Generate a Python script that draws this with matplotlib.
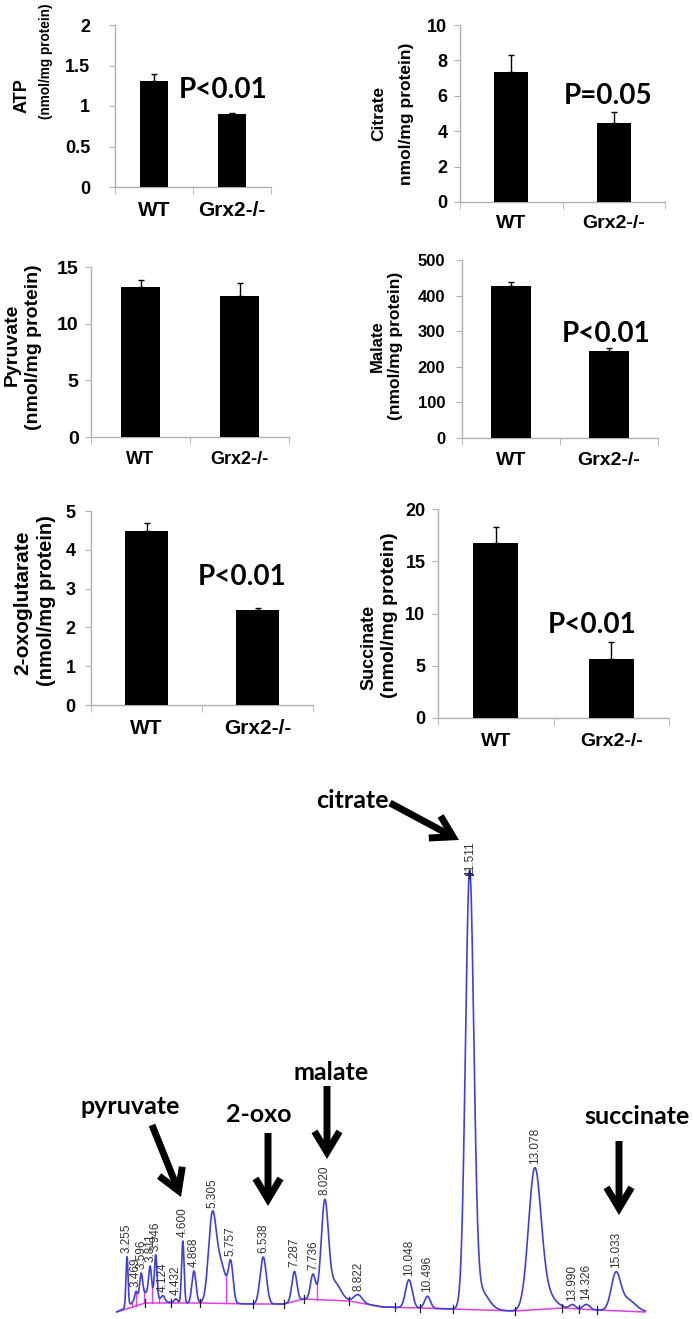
import numpy as np
import matplotlib
matplotlib.use("Agg")
import matplotlib.pyplot as plt
from matplotlib.ticker import FixedLocator, FuncFormatter

plt.rcParams['font.family'] = ['Liberation Sans', 'DejaVu Sans']

W, H, DPI = 693, 1319, 100
fig = plt.figure(figsize=(W / DPI, H / DPI), dpi=DPI)

# ---------------- data ----------------
groups = ["WT", "Grx2-/-"]

atp_mean = [1.31, 0.90]
atp_err = [0.08, 0.01]
citrate_mean = [7.32, 4.49]
citrate_err = [0.98, 0.57]
pyruvate_mean = [13.2, 12.42]
pyruvate_err = [0.65, 1.18]
malate_mean = [427, 243]
malate_err = [10, 9]
oxo_mean = [4.48, 2.44]
oxo_err = [0.22, 0.06]
succinate_mean = [16.75, 5.65]
succinate_err = [1.53, 1.59]

atp_ticks = [0, 0.5, 1, 1.5, 2]
citrate_ticks = [0, 2, 4, 6, 8, 10]
pyruvate_ticks = [0, 5, 10, 15]
malate_ticks = [0, 100, 200, 300, 400, 500]
oxo_ticks = [0, 1, 2, 3, 4, 5]
succinate_ticks = [0, 5, 10, 15, 20]

p_texts = ["P<0.01", "P=0.05", None, "P<0.01", "P<0.01", "P<0.01"]

# chromatogram: labelled peaks (retention time, height, width)
peak_rt = [3.255, 3.469, 3.596, 3.811, 3.946, 4.124, 4.432, 4.600, 4.868,
           5.305, 5.757, 6.538, 7.287, 7.736, 8.020, 8.822, 10.048, 10.496,
           11.511, 13.078, 13.990, 14.326, 15.033]
peak_height = [50, 8, 22, 28, 42, 5, 4, 62, 32,
               76, 36, 47, 30, 25, 95, 8, 28, 12,
               430, 136, 4, 5, 34]
peak_width = [0.025, 0.03, 0.035, 0.035, 0.03, 0.04, 0.04, 0.03, 0.05,
              0.09, 0.055, 0.075, 0.06, 0.06, 0.085, 0.10, 0.08, 0.07,
              0.10, 0.15, 0.07, 0.08, 0.11]
# unlabelled shoulders / tails
tail_rt = [3.70, 5.50, 8.25, 11.75, 13.35, 15.30]
tail_height = [10, 40, 18, 20, 15, 12]
tail_width = [0.25, 0.14, 0.15, 0.20, 0.20, 0.20]
# integration baseline (time, signal)
base_t = [3.01, 3.69, 5.01, 6.29, 7.04, 7.52, 8.60, 9.42, 11.11, 12.60, 13.74, 14.58, 15.74]
base_v = [-7, 2, 2, 1, 1, 6, 4, -2, -4, -6, -3, -5, -7]
# integration events
tick_t = [3.69, 4.31, 5.01, 6.29, 7.04, 7.52, 8.60, 9.71, 10.32, 11.11, 12.60, 13.74, 14.15, 14.58]
drop_t = [3.37, 3.47, 3.66, 3.86, 4.03, 4.72, 5.64, 7.84]

annot_names = ["pyruvate", "2-oxo", "malate", "citrate", "succinate"]


def box(l, t, r, b):
    return [l / W, 1 - b / H, (r - l) / W, (b - t) / H]


AXC = '#b0b0b0'


def bar_panel(bx, means, errs, ticks, width, tfs, tpad, xfs, xpad):
    ax = fig.add_axes(box(*bx))
    x = np.arange(len(groups))
    ax.bar(x, means, width=width, color='black', zorder=3)
    ax.errorbar(x, means, yerr=[np.zeros(len(errs)), errs], fmt='none',
                ecolor='black', elinewidth=1.0, capsize=2.5, capthick=1.0, zorder=4)
    ax.set_xlim(-0.5, 1.5)
    ax.set_ylim(ticks[0], ticks[-1])
    for s in ['top', 'right']:
        ax.spines[s].set_visible(False)
    for s in ['left', 'bottom']:
        ax.spines[s].set_color(AXC)
        ax.spines[s].set_linewidth(1.0)
    ax.yaxis.set_major_locator(FixedLocator(ticks))
    ax.yaxis.set_major_formatter(FuncFormatter(lambda v, p: '%g' % v))
    ax.tick_params(axis='y', length=4, color=AXC, pad=tpad, labelsize=tfs)
    for lab in ax.get_yticklabels():
        lab.set_fontweight('bold')
    ax.set_xticks(x)
    ax.set_xticklabels(groups, fontsize=xfs, fontweight='bold')
    ax.tick_params(axis='x', length=0, pad=xpad)
    ax.set_xticks([-0.5, 0.5, 1.5], minor=True)
    ax.tick_params(axis='x', which='minor', length=5, color=AXC, direction='out')
    return ax


panels = [
    # box px, means, errs, ticks, barwidth, tick fs, tick pad, x fs, x pad
    ((115, 25, 271, 187), atp_mean, atp_err, atp_ticks, 0.37, 13, 14, 15, 10),
    ((460, 25, 665, 202), citrate_mean, citrate_err, citrate_ticks, 0.33, 13, 5, 14, 9),
    ((91, 267, 289, 437), pyruvate_mean, pyruvate_err, pyruvate_ticks, 0.39, 14, 5, 13, 10),
    ((462, 260, 658, 438), malate_mean, malate_err, malate_ticks, 0.41, 12, 8, 14, 10),
    ((91, 511, 313, 705), oxo_mean, oxo_err, oxo_ticks, 0.39, 13, 7, 15, 10),
    ((438, 509, 669, 718), succinate_mean, succinate_err, succinate_ticks, 0.39, 13, 5, 14, 11),
]
axes = [bar_panel(*p) for p in panels]

# y-axis titles (figure pixel positions)
ylabels = [
    ("ATP", 22, 96, 13), ("(nmol/mg protein)", 46, 61, 9.8),
    ("Citrate", 379, 113, 12.5), ("nmol/mg protein)", 407, 114, 12.5),
    ("Pyruvate", 12, 345, 14), ("(nmol/mg protein)", 34, 347, 14),
    ("Malate", 377, 346, 12), ("(nmol/mg protein)", 395, 346, 12.5),
    ("2-oxoglutarate", 23, 603, 15), ("(nmol/mg protein)", 46, 601, 14.5),
    ("Succinate", 369, 647, 13), ("(nmol/mg protein)", 390, 615, 14),
]
for txt, px, py, fs in ylabels:
    fig.text(px / W, 1 - py / H, txt, rotation=90, ha='center', va='center',
             fontsize=fs, fontweight='bold')

# p-values (baseline positions)
p_pos = [(223, 98), (608, 104), None, (606, 342), (242, 585), (592, 633)]
for txt, pos in zip(p_texts, p_pos):
    if txt is None:
        continue
    fig.text(pos[0] / W, 1 - pos[1] / H, txt, ha='center', va='baseline',
             fontsize=20, fontweight='bold', family=['Lato', 'Liberation Sans'])

# ---------------- chromatogram ----------------
px0, pxscale, rt_ref = 127.0, 41.5, 3.255
tmin = rt_ref + (110 - px0) / pxscale
tmax = rt_ref + (650 - px0) / pxscale
cax = fig.add_axes(box(110, 845, 650, 1319))
cax.set_xlim(tmin, tmax)
cax.set_ylim(-14, 460)
cax.axis('off')

t = np.linspace(base_t[0], base_t[-1], 4000)


def signal(tt):
    tt = np.asarray(tt, dtype=float)
    y = np.interp(tt, base_t, base_v)
    for r, h, w in zip(peak_rt + tail_rt, peak_height + tail_height, peak_width + tail_width):
        y = y + h * np.exp(-0.5 * ((tt - r) / w) ** 2)
    return y


y = signal(t)
BLUE = '#3f3fdc'
MAG = '#e040e0'
cax.plot(base_t, base_v, color=MAG, lw=1.1, zorder=2)
for d in drop_t:
    cax.plot([d, d], [np.interp(d, base_t, base_v), signal(d)], color=MAG, lw=1.0, zorder=2)
cax.plot(t, y, color=BLUE, lw=1.2, zorder=3)
for k in tick_t:
    b = np.interp(k, base_t, base_v)
    cax.plot([k, k], [b - 4, b + 4], color='#222222', lw=0.9, zorder=4)

for r in peak_rt:
    top = signal(r)
    off = 4
    if r > 11 and r < 12:
        off = -6
    cax.text(r, top + off, '%.3f' % r, rotation=90, ha='center', va='bottom',
             fontsize=8.5, color='#333333', zorder=5)
cax.plot([11.511], [signal(11.511) - 5], marker='+', color='#222266', ms=6, mew=1.2, zorder=6)

# annotation texts and arrows (figure pixel positions)
annot_text_pos = [(130, 1107), (259, 1115), (331, 1072), (352, 801), (637, 1117)]
annot_arrows = [((152, 1125), (181, 1197)), ((268, 1133), (268, 1206)),
                ((327, 1086), (327, 1159)), ((390, 803), (459, 840)),
                ((619, 1141), (619, 1215))]
for name, (tx, ty), (tail, tip) in zip(annot_names, annot_text_pos, annot_arrows):
    fig.text(tx / W, 1 - ty / H, name, ha='center', va='center', fontsize=18,
             fontweight='bold', family=['Lato', 'Liberation Sans'])
    fig.add_artist(matplotlib.patches.FancyArrowPatch(
        (tail[0] / W, 1 - tail[1] / H), (tip[0] / W, 1 - tip[1] / H),
        transform=fig.transFigure, arrowstyle='->,head_length=0.75,head_width=0.45',
        mutation_scale=20, lw=5, color='black', shrinkA=0, shrinkB=0,
        joinstyle='miter', capstyle='butt'))

fig.savefig('out.png', dpi=DPI)
